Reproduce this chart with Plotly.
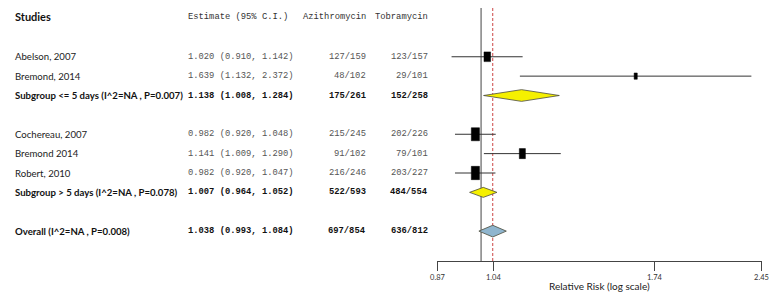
import math
import plotly.graph_objects as go

# ---------------- data ----------------
studies = ["Abelson, 2007", "Bremond, 2014", "Cochereau, 2007", "Bremond 2014", "Robert, 2010"]
study_est = [1.020, 1.639, 0.982, 1.141, 0.982]
study_lo = [0.910, 1.132, 0.920, 1.009, 0.920]
study_hi = [1.142, 2.372, 1.048, 1.290, 1.047]
study_azi = ["127/159", "48/102", "215/245", "91/102", "216/246"]
study_tob = ["123/157", "29/101", "202/226", "79/101", "203/227"]

summary_labels = ["Subgroup <= 5 days (I^2=NA , P=0.007)",
                  "Subgroup > 5 days (I^2=NA , P=0.078)",
                  "Overall (I^2=NA , P=0.008)"]
summary_est = [1.138, 1.007, 1.038]
summary_lo = [1.008, 0.964, 0.993]
summary_hi = [1.284, 1.052, 1.084]
summary_azi = ["175/261", "522/593", "697/854"]
summary_tob = ["152/258", "484/554", "636/812"]

headers = ["Studies", "Estimate (95% C.I.)", "Azithromycin", "Tobramycin"]
tick_vals = [0.87, 1.04, 1.74, 2.45]
tick_text = ["0.87", "1.04", "1.74", "2.45"]
x_title = "Relative Risk (log scale)"

# ---------------- layout constants (figure pixels; page adds 8px body margin) ----------------
OFF = 8
W, H = 780 - OFF, 304 - OFF
study_rows = [1, 2, 5, 6, 7]
summary_rows = [3, 8, 10]
row0_px = 56.7 - OFF
row_px = 19.35
axis_px = 260.7 - OFF
header_row = 1 - (row0_px - (16.5 - OFF)) / row_px
ax_left_px, ax_right_px = 438.3 - OFF, 768.3 - OFF
y_top = 1 - row0_px / row_px
y_bot = 1 + (axis_px - row0_px) / row_px
px_per_ln = (ax_right_px - ax_left_px) / math.log(tick_vals[-1] / tick_vals[0])

box_px = [(6.7, 9.7), (3.2, 6.3), (8.3, 13.0), (6.2, 10.0), (8.3, 13.3)]
diamond_h_px = [11.7, 10.0, 11.7]
diamond_fill = ["#F5F000", "#F5F000", "#8FB5CE"]

sans = "Lato, Roboto, Liberation Sans, Arial"
mono = "Liberation Mono, Courier New, monospace"
col_name_px = 0
col_est_px = 184.5 - OFF
col_azi_px = 365 - OFF
col_tob_px = 429 - OFF
mono_size = 8.8
name_size = 9.6

fig = go.Figure()

# reference lines (null and overall estimate)
fig.add_trace(go.Scatter(x=[1, 1], y=[y_top, y_bot], mode="lines",
                         line=dict(color="#444444", width=1), hoverinfo="skip", showlegend=False))
fig.add_trace(go.Scatter(x=[summary_est[-1]] * 2, y=[y_top, y_bot], mode="lines",
                         line=dict(color="#cc4444", width=1, dash="3px,2px"), hoverinfo="skip", showlegend=False))

# study CI lines and boxes
for i, r in enumerate(study_rows):
    fig.add_trace(go.Scatter(x=[study_lo[i], study_hi[i]], y=[r, r], mode="lines",
                             line=dict(color="#333333", width=1), hoverinfo="skip", showlegend=False))
    w, h = box_px[i]
    dx = math.exp(w / 2 / px_per_ln)
    dy = h / 2 / row_px
    e = study_est[i]
    fig.add_trace(go.Scatter(x=[e / dx, e * dx, e * dx, e / dx, e / dx],
                             y=[r - dy, r - dy, r + dy, r + dy, r - dy],
                             mode="lines", fill="toself", fillcolor="#000000",
                             line=dict(color="#000000", width=0.5), hoverinfo="skip", showlegend=False))

# summary diamonds
for i, r in enumerate(summary_rows):
    dy = diamond_h_px[i] / 2 / row_px
    fig.add_trace(go.Scatter(x=[summary_lo[i], summary_est[i], summary_hi[i], summary_est[i], summary_lo[i]],
                             y=[r, r - dy, r, r + dy, r],
                             mode="lines", fill="toself", fillcolor=diamond_fill[i],
                             line=dict(color="#4a4a3a", width=0.8), hoverinfo="skip", showlegend=False))

ann = []


def add_text(txt, xpx, row, anchor, font, size, color, bold=False):
    ann.append(dict(x=xpx / W, y=row, xref="paper", yref="y", text=(f"<b>{txt}</b>" if bold else txt),
                    showarrow=False, xanchor=anchor, yanchor="middle", borderpad=0, borderwidth=0,
                    font=dict(family=font, size=size, color=color)))


# headers
add_text(headers[0], col_name_px, header_row, "left", sans, 11, "#111111", bold=True)
add_text(headers[1], col_est_px, header_row, "left", mono, mono_size, "#333333")
add_text(headers[2], col_azi_px, header_row, "right", mono, mono_size, "#333333")
add_text(headers[3], col_tob_px, header_row, "right", mono, mono_size, "#333333")

for i, r in enumerate(study_rows):
    add_text(studies[i], col_name_px, r, "left", sans, name_size, "#222222")
    add_text(f"{study_est[i]:.3f} ({study_lo[i]:.3f}, {study_hi[i]:.3f})", col_est_px, r, "left", mono, mono_size, "#555555")
    add_text(study_azi[i], col_azi_px, r, "right", mono, mono_size, "#555555")
    add_text(study_tob[i], col_tob_px, r, "right", mono, mono_size, "#555555")

for i, r in enumerate(summary_rows):
    add_text(summary_labels[i], col_name_px, r, "left", sans, name_size, "#111111", bold=True)
    add_text(f"{summary_est[i]:.3f} ({summary_lo[i]:.3f}, {summary_hi[i]:.3f})", col_est_px, r, "left", mono, mono_size, "#111111", bold=True)
    add_text(summary_azi[i], col_azi_px, r, "right", mono, mono_size, "#111111", bold=True)
    add_text(summary_tob[i], col_tob_px, r, "right", mono, mono_size, "#111111", bold=True)

# axis title
ann.append(dict(x=(ax_left_px + ax_right_px) / 2 / W, y=(axis_px - (286 - OFF)) / axis_px,
                xref="paper", yref="paper", text=x_title, showarrow=False,
                xanchor="center", yanchor="middle", borderpad=0, borderwidth=0,
                font=dict(family=sans, size=10, color="#222222")))

fig.update_layout(
    width=W, height=H,
    margin=dict(l=0, r=0, t=0, b=H - axis_px, pad=0),
    paper_bgcolor="white", plot_bgcolor="white",
    annotations=ann,
    xaxis=dict(type="log", range=[math.log10(tick_vals[0]), math.log10(tick_vals[-1])],
               domain=[ax_left_px / W, ax_right_px / W],
               showline=True, linecolor="#444444", linewidth=1,
               ticks="outside", ticklen=9, tickcolor="#444444", tickwidth=1,
               tickvals=tick_vals, ticktext=tick_text,
               tickfont=dict(family=sans, size=7.5, color="#333333"),
               showgrid=False, zeroline=False, fixedrange=True),
    yaxis=dict(range=[y_bot, y_top], visible=False, showgrid=False, zeroline=False, domain=[0, 1]),
    showlegend=False,
)

fig.write_html("out.html")
